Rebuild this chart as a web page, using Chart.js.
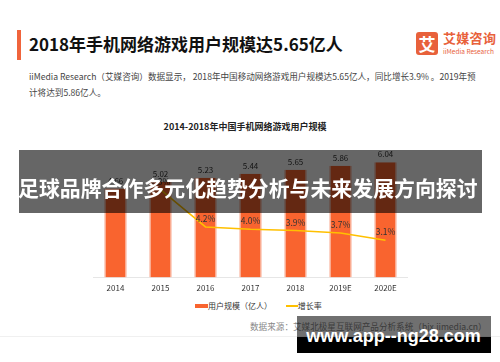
<!DOCTYPE html>
<html>
<head>
<meta charset="utf-8">
<script src="https://cdn.jsdelivr.net/npm/chart.js@4.4.0/dist/chart.umd.min.js"></script>
<style>
  html, body { margin: 0; padding: 0; background: #fff; }
  body { width: 500px; height: 362px; position: relative; overflow: hidden;
         font-family: "Noto Sans CJK SC", "Noto Sans", sans-serif; }
  .abs { position: absolute; white-space: nowrap; }
  .redbar { left: 17px; top: 30px; width: 4px; height: 30px; background: #f0643c; }
  .title { left: 29px; top: 32px; font-size: 17px; font-weight: bold; color: #111; line-height: 24px; }
  .logo-box { left: 416px; top: 32px; width: 22px; height: 23px; background: #e8613b; border-radius: 3px;
              color: #fff; font-size: 17px; font-weight: bold; text-align: center; line-height: 23px; }
  .logo-cn { left: 443px; top: 30px; font-size: 13px; font-weight: bold; color: #e8613b; line-height: 16px; letter-spacing: 0.3px; }
  .logo-en { left: 443px; top: 47px; font-size: 6.5px; color: #e8613b; line-height: 9px; }
  .para { left: 29px; top: 69px; width: 450px; font-size: 8.6px; color: #444; line-height: 15.5px; white-space: normal; }
  .ctitle { left: 0; width: 490px; top: 120px; text-align: center; font-size: 9px; font-weight: bold; color: #222; }
  #wrap { position: absolute; left: 93px; top: 144px; width: 315px; height: 155px; }
  .legend { top: 299px; left: 195px; font-size: 8px; color: #333; line-height: 12px; }
  .legend span { display: inline-block; vertical-align: middle; }
  .source { left: 250px; top: 320px; font-size: 8.6px; color: #888; }
  .banner { left: 19px; top: 150px; width: 463px; height: 63px; background: rgba(0,0,0,0.6); }
  .banner-text { left: 18px; top: 171px; font-size: 20.9px; font-weight: bold; color: #fff; line-height: 32px; }
  .wm-gray { left: 297px; top: 316px; width: 194px; height: 21px; background: rgba(0,0,0,0.56); }
  .wm-black { left: 297px; top: 337px; width: 194px; height: 16px; background: #000; }
  .wm-text { left: 297px; top: 322px; width: 193px; text-align: center; font-family: "Liberation Sans", Arial, sans-serif;
             font-size: 18px; font-weight: bold; color: #fff; line-height: 28px; }
  .hline { left: 0; top: 336px; width: 500px; height: 1px; background: #f0f0f0; }
</style>
</head>
<body>
<div class="abs redbar"></div>
<div class="abs title">2018年手机网络游戏用户规模达5.65亿人</div>
<div class="abs logo-box">艾</div>
<div class="abs logo-cn">艾媒咨询</div>
<div class="abs logo-en">iiMedia Research</div>
<div class="abs para">iiMedia Research（艾媒咨询）数据显示， 2018年中国移动网络游戏用户规模达5.65亿人，同比增长3.9% 。2019年预计将达到5.86亿人。</div>
<div class="abs ctitle">2014-2018年中国手机网络游戏用户规模</div>

<div id="wrap"><canvas id="chart"></canvas></div>

<div class="abs legend">
  <span style="width:13px;height:4px;background:#f9642f;"></span><span>用户规模（亿人）</span>
  <span style="width:12px;height:1.5px;background:#ffc000;margin-left:12px;"></span><span>增长率</span>
</div>
<div class="abs hline"></div>
<div class="abs source">数据来源：艾媒北极星互联网产品分析系统（bjx.iimedia.cn）</div>

<div class="abs banner"></div>
<div class="abs banner-text">足球品牌合作多元化趋势分析与未来发展方向探讨</div>
<div class="abs wm-gray"></div>
<div class="abs wm-black"></div>
<div class="abs wm-text">www.app--ng28.com</div>

<script>
// ── data ──
const years   = ['2014', '2015', '2016', '2017', '2018', '2019E', '2020E'];
const users   = [4.66, 5.02, 5.23, 5.44, 5.65, 5.86, 6.04];   // 亿人
const growth  = [null, 7.3, 4.2, 4.0, 3.9, 3.7, 3.1];         // %

const BAR = '#f9642f';
const LINE = '#ffc000';

// value labels above bars / points
const labelPlugin = {
  id: 'labels',
  afterDatasetsDraw(chart) {
    const ctx = chart.ctx;
    ctx.save();
    ctx.textAlign = 'center';
    ctx.textBaseline = 'bottom';
    ctx.fillStyle = '#333';
    chart.data.datasets.forEach((ds, i) => {
      const meta = chart.getDatasetMeta(i);
      meta.data.forEach((el, j) => {
        const v = ds.data[j];
        if (v == null) return;
        if (ds.type === 'line') {
          ctx.font = '8.5px "Noto Sans CJK SC", sans-serif';
          ctx.fillText(v.toFixed(1) + '%', el.x, el.y - 4);
        } else {
          ctx.font = '8px "Noto Sans CJK SC", sans-serif';
          ctx.fillText(v.toFixed(2), el.x, el.y - 4);
        }
      });
    });
    ctx.restore();
  }
};

new Chart(document.getElementById('chart'), {
  data: {
    labels: years,
    datasets: [
      { type: 'line', label: '增长率', data: growth, yAxisID: 'y1', order: 0,
        borderColor: LINE, borderWidth: 1.5, pointRadius: 0, tension: 0, spanGaps: false },
      { type: 'bar', label: '用户规模（亿人）', data: users, yAxisID: 'y', order: 1,
        backgroundColor: BAR, borderColor: '#f9b09a', borderWidth: { left: 1.5, right: 1.5, top: 0, bottom: 0 },
        borderSkipped: 'bottom', barPercentage: 0.5, categoryPercentage: 1 }
    ]
  },
  options: {
    responsive: true, maintainAspectRatio: false, animation: false,
    layout: { padding: 0 },
    plugins: { legend: { display: false }, tooltip: { enabled: false } },
    scales: {
      x: { grid: { display: false, drawTicks: false }, border: { color: '#e6e6e6', width: 1 },
           ticks: { color: '#333', font: { size: 8, family: '"Noto Sans CJK SC", sans-serif' }, padding: 6 } },
      y:  { display: false, min: 0, max: 7 },
      y1: { display: false, min: 0, max: 11.1, position: 'right' }
    }
  },
  plugins: [labelPlugin]
});
</script>
</body>
</html>
